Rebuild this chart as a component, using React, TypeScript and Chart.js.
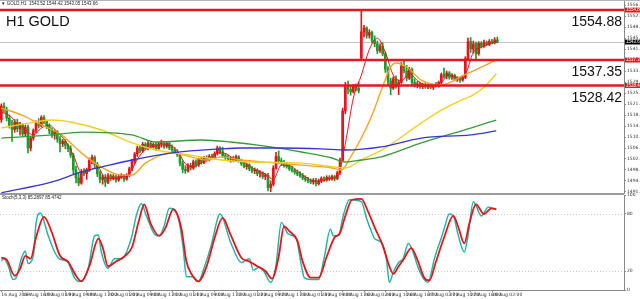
import React, { useEffect, useRef } from "react";
import { Chart, registerables } from "chart.js";
Chart.register(...registerables);

// ---------- DATA ----------
const title = "H1 GOLD";
const headerText = "▼ GOLD,H1  1543.52 1544.42 1543.05 1543.66";
const stochLabel = "Stoch(5,3,3) 85.2897 85.4742";

// [open, high, low, close] per H1 bar
const candles: number[][] = [
  [1516.5,1522.0,1515.5,1521.2],[1521.2,1522.3,1519.0,1520.0],[1520.0,1520.8,1516.0,1517.0],[1517.0,1518.0,1513.5,1514.5],
  [1514.5,1516.2,1508.8,1513.0],[1513.0,1516.5,1512.0,1515.5],[1515.5,1516.6,1512.2,1513.2],[1513.2,1515.5,1511.0,1514.6],
  [1514.6,1515.0,1510.5,1511.5],[1511.5,1514.5,1510.8,1513.8],[1513.8,1514.5,1504.8,1506.5],[1506.5,1510.5,1505.5,1510.0],
  [1510.0,1513.2,1509.2,1512.6],[1512.6,1516.0,1511.8,1515.2],[1515.2,1516.8,1513.5,1514.3],[1514.3,1517.8,1513.9,1517.2],
  [1517.2,1517.9,1515.0,1515.8],[1515.8,1516.3,1513.3,1514.0],[1514.0,1515.0,1511.5,1512.5],[1512.5,1513.6,1510.2,1511.0],
  [1511.0,1512.8,1509.6,1512.2],[1512.2,1512.6,1508.5,1509.6],[1509.6,1510.5,1505.1,1508.0],[1508.0,1509.5,1507.0,1508.8],
  [1508.8,1509.4,1506.2,1507.4],[1507.4,1508.0,1505.2,1506.3],[1506.3,1507.3,1503.2,1504.0],[1504.0,1504.6,1497.5,1498.8],
  [1498.8,1500.2,1494.3,1496.0],[1496.0,1497.6,1493.3,1494.2],[1494.2,1499.0,1493.8,1498.2],[1498.2,1499.3,1496.8,1497.5],
  [1497.5,1499.5,1495.5,1499.0],[1499.0,1503.0,1498.3,1502.2],[1502.2,1504.0,1501.0,1503.2],[1503.2,1503.8,1500.0,1500.7],
  [1500.7,1501.5,1496.5,1497.5],[1497.5,1498.5,1494.3,1495.5],[1495.5,1497.0,1493.8,1496.2],[1496.2,1497.2,1493.0,1494.5],
  [1494.5,1497.5,1494.0,1496.8],[1496.8,1497.4,1495.0,1496.0],[1496.0,1497.2,1495.3,1496.5],[1496.5,1497.0,1494.5,1495.3],
  [1495.3,1497.2,1494.8,1496.5],[1496.5,1497.5,1495.8,1496.9],[1496.9,1497.3,1494.8,1495.6],[1495.6,1497.5,1495.2,1497.0],
  [1497.0,1499.8,1496.4,1499.2],[1499.2,1502.5,1498.6,1501.8],[1501.8,1505.0,1501.1,1504.4],[1504.4,1507.2,1503.5,1506.5],
  [1506.5,1507.3,1504.8,1505.5],[1505.5,1508.5,1505.0,1507.8],[1507.8,1508.4,1505.8,1506.4],[1506.4,1509.1,1505.8,1508.2],
  [1508.2,1508.9,1506.2,1507.0],[1507.0,1508.3,1506.5,1507.8],[1507.8,1508.5,1505.6,1506.3],[1506.3,1508.6,1506.0,1508.0],
  [1508.0,1509.3,1506.8,1508.2],[1508.2,1508.8,1506.4,1507.1],[1507.1,1508.8,1506.5,1508.1],[1508.1,1508.5,1505.9,1506.6],
  [1506.6,1507.6,1505.2,1505.8],[1505.8,1506.7,1504.5,1505.0],[1505.0,1505.9,1503.5,1504.1],[1504.1,1504.6,1500.2,1501.2],
  [1501.2,1502.0,1497.8,1499.0],[1499.0,1500.3,1497.6,1498.5],[1498.5,1501.0,1498.0,1500.4],[1500.4,1501.2,1498.8,1499.5],
  [1499.5,1502.3,1499.0,1501.7],[1501.7,1502.4,1499.8,1500.6],[1500.6,1503.0,1500.0,1502.5],[1502.5,1503.3,1500.8,1501.5],
  [1501.5,1503.6,1501.0,1503.0],[1503.0,1503.8,1501.8,1502.4],[1502.4,1504.2,1502.0,1503.6],[1503.6,1504.4,1502.5,1503.0],
  [1503.0,1505.2,1502.6,1504.6],[1504.6,1507.2,1504.0,1506.5],[1506.5,1507.0,1504.5,1505.2],[1505.2,1506.8,1503.3,1503.8],
  [1503.8,1504.6,1502.5,1503.2],[1503.2,1504.0,1502.0,1502.6],[1502.6,1503.5,1501.5,1503.0],[1503.0,1503.6,1501.6,1502.1],
  [1502.1,1504.0,1501.8,1503.4],[1503.4,1503.8,1501.5,1502.0],[1502.0,1502.6,1500.4,1501.0],[1501.0,1501.8,1499.5,1500.0],
  [1500.0,1501.2,1499.0,1500.6],[1500.6,1501.0,1498.5,1499.2],[1499.2,1500.0,1497.8,1498.5],[1498.5,1499.5,1497.5,1498.8],
  [1498.8,1499.2,1496.8,1497.5],[1497.5,1498.6,1496.3,1497.8],[1497.8,1498.2,1495.8,1496.5],[1496.5,1497.6,1495.4,1497.0],
  [1497.0,1497.6,1491.5,1492.6],[1492.6,1495.0,1491.2,1493.8],[1493.8,1500.3,1493.2,1499.5],[1499.5,1505.0,1499.0,1503.5],
  [1503.5,1505.5,1501.2,1502.0],[1502.0,1503.0,1500.3,1501.0],[1501.0,1502.2,1499.8,1500.5],[1500.5,1501.4,1499.4,1500.0],
  [1500.0,1500.8,1498.6,1499.2],[1499.2,1500.2,1498.0,1498.8],[1498.8,1499.3,1497.3,1498.0],[1498.0,1498.8,1496.8,1497.4],
  [1497.4,1498.2,1496.2,1496.8],[1496.8,1497.6,1495.4,1496.0],[1496.0,1496.8,1494.8,1495.5],[1495.5,1496.2,1494.3,1495.0],
  [1495.0,1495.7,1494.0,1494.6],[1494.6,1495.8,1493.8,1495.2],[1495.2,1495.9,1493.2,1494.0],[1494.0,1495.6,1493.5,1495.0],
  [1495.0,1496.4,1494.4,1495.8],[1495.8,1496.4,1494.8,1495.3],[1495.3,1496.8,1494.9,1496.2],[1496.2,1496.8,1495.0,1495.6],
  [1495.6,1497.0,1495.2,1496.5],[1496.5,1497.0,1495.0,1495.8],[1495.8,1498.4,1495.4,1497.8],[1497.8,1503.0,1497.2,1502.2],
  [1502.2,1520.5,1501.8,1519.5],[1519.5,1529.5,1518.5,1528.5],[1528.5,1530.0,1525.5,1527.0],[1527.0,1528.5,1525.0,1526.2],
  [1526.2,1528.8,1525.8,1528.2],[1528.2,1529.0,1526.5,1527.5],[1527.5,1529.6,1525.8,1526.5],[1538.0,1554.9,1537.5,1547.2],
  [1547.2,1549.5,1545.4,1548.6],[1548.6,1549.0,1545.0,1546.0],[1546.0,1548.0,1545.0,1547.0],[1547.0,1547.5,1543.3,1544.2],
  [1544.2,1545.8,1542.0,1543.0],[1543.0,1544.0,1539.6,1540.6],[1540.6,1543.0,1540.0,1542.2],[1542.2,1543.4,1538.8,1539.5],
  [1539.5,1540.2,1533.0,1534.2],[1534.2,1535.0,1528.5,1530.0],[1530.0,1531.0,1525.2,1527.5],[1527.5,1531.5,1527.0,1530.8],
  [1530.8,1531.8,1527.5,1528.4],[1528.4,1530.4,1525.2,1529.5],[1529.5,1536.5,1529.0,1535.2],[1535.2,1537.5,1532.8,1533.5],
  [1533.5,1535.5,1530.0,1531.0],[1531.0,1534.8,1530.5,1534.0],[1534.0,1534.5,1528.5,1529.4],[1529.4,1530.8,1527.8,1528.6],
  [1528.6,1529.8,1527.6,1529.0],[1529.0,1529.6,1527.4,1528.0],[1528.0,1529.2,1527.3,1528.7],[1528.7,1529.3,1527.4,1527.9],
  [1527.9,1529.0,1527.3,1528.5],[1528.5,1529.0,1527.2,1527.8],[1527.8,1528.9,1527.0,1528.4],[1528.4,1529.5,1527.8,1528.2],
  [1528.2,1530.0,1527.8,1529.5],[1529.5,1532.8,1529.0,1532.2],[1532.2,1534.5,1531.0,1531.6],[1531.6,1533.5,1530.8,1532.8],
  [1532.8,1533.3,1530.6,1531.3],[1531.3,1532.6,1530.5,1532.0],[1532.0,1532.4,1530.0,1530.6],[1530.6,1531.5,1529.8,1531.0],
  [1531.0,1531.4,1529.5,1530.3],[1530.3,1531.8,1529.9,1531.2],[1531.2,1538.5,1530.8,1537.8],[1537.8,1545.0,1537.2,1543.8],
  [1543.8,1545.2,1540.0,1541.2],[1541.2,1544.0,1539.8,1543.0],[1543.0,1543.6,1537.5,1539.6],[1539.6,1543.8,1539.0,1543.2],
  [1543.2,1543.8,1541.5,1542.1],[1542.1,1544.3,1541.8,1543.5],[1543.5,1544.0,1542.3,1542.8],[1542.8,1544.5,1542.4,1543.9],
  [1543.9,1544.6,1543.0,1543.4],[1543.4,1545.2,1543.0,1544.4],[1544.4,1545.4,1543.4,1543.7]
];

// moving averages: [bar index, price]
const maFast: number[][] = [
  [0,1519],[3,1518],[6,1515],[9,1513],[12,1511],[15,1513.5],[18,1514.5],[21,1512],[24,1509],[27,1504],[30,1498],
  [33,1498.5],[36,1500],[39,1496],[42,1495.8],[45,1496.2],[48,1497.5],[51,1502.5],[54,1506],[57,1507],[60,1507.6],
  [63,1507.5],[66,1505.5],[69,1501],[72,1500],[75,1501.3],[78,1502.8],[81,1504.8],[84,1504.6],[87,1502.8],[90,1502.2],
  [93,1500.2],[96,1498.6],[99,1497.4],[102,1495.5],[105,1500.5],[108,1500.4],[111,1498.4],[114,1496.4],[117,1495],
  [120,1494.9],[123,1495.8],[126,1496.4],[129,1508],[132,1524],[135,1532],[138,1541],[141,1545],[144,1540],[147,1532],
  [150,1530],[153,1532.6],[156,1530.2],[159,1528.4],[162,1528.2],[165,1529.6],[168,1532],[171,1531.2],[174,1532.4],
  [177,1540],[180,1541.8],[183,1543],[186,1543.6]
];
const maOrange: number[][] = [
  [0,1520.5],[7.5,1518.1],[15,1514.6],[22.5,1511.1],[30,1504.8],[37.5,1499.8],[45,1497],[49,1497],[54,1501.2],
  [64,1504.8],[71,1503.4],[77,1502.3],[82.5,1503.4],[90,1502.3],[101,1501.4],[112.5,1500.5],[124,1499.5],[127.5,1498.8],
  [131,1503.4],[135,1510],[139,1518],[142.5,1526.8],[146,1534.9],[148,1536.3],[152,1534.9],[157.5,1530.3],[165,1528.6],
  [173.6,1532.1],[185.6,1537.35]
];
const maYellow: number[][] = [
  [0,1513.5],[11,1515.3],[19,1516.3],[26,1515.6],[37.5,1512.8],[49,1508.3],[58,1505.8],[71,1504],[82.5,1502.3],
  [94,1501.6],[112.5,1501.2],[125.6,1499.8],[129,1499.5],[135,1502.3],[144,1506.5],[157.5,1515.3],[165,1519.8],
  [172.5,1523.3],[176,1524.6],[181,1527.8],[185.6,1532.5]
];
const maGreen: number[][] = [
  [0,1510],[19,1511.1],[30,1512.1],[49,1511.1],[58,1508.6],[75,1509.3],[86,1508.6],[101,1506.9],[112.5,1505.1],
  [124,1503],[129,1501.6],[135,1502.3],[142.5,1503.4],[157.5,1508.3],[176,1513.5],[185.6,1516.3]
];
const maBlue: number[][] = [
  [0,1490.8],[19,1494.6],[30,1498.1],[37.5,1499.8],[49,1502.3],[64,1504.8],[82.5,1506.2],[90,1506.5],[105,1506.5],
  [120,1506.2],[129,1505.8],[142.5,1506.9],[157.5,1510],[176,1511.1],[185.6,1512.5]
];

// stochastic: [bar index, value]
const stochMain: number[][] = [
  [0,31],[1,33],[2.5,26],[4.4,11],[5.6,13],[7.5,33],[9,41],[10,28],[12,36],[13,70],[14.6,81],[17.6,57],[20,40],
  [21.7,33],[25,29],[27.4,13],[29,9],[30.7,11],[32.6,23],[35,57],[36.4,58],[37.5,40],[40,23],[42.4,33],[45,33],
  [48.7,54],[50.6,78],[52.5,91],[54.4,78],[57.4,59],[59.2,57],[61,67],[63,86],[66.4,75],[68.2,44],[69.4,14],[72,14],
  [73.9,9],[76,23],[78.7,47],[81.4,78],[82,80],[86,50],[90,29],[93,33],[94.5,21],[96.7,24],[98.6,19],[101,8],[103,26],
  [105,71],[107.6,59],[110.6,54],[112.5,26],[113.6,13],[116,11],[119,11],[121,33],[123.4,64],[124.5,57],[126.4,57],
  [128.2,78],[130.5,95],[135,93],[137,75],[139,60],[140,54],[142.5,50],[144.4,33],[145.5,8],[147,19],[149,29],
  [150.7,33],[152.6,49],[153.7,45],[156.4,23],[158.6,11],[160,8],[162.4,33],[165,55],[166,64],[168,80],[169.5,78],
  [171.4,57],[173.6,40],[175,57],[177,93],[180,78],[182.6,87],[185.6,85]
];
const stochSignal: number[][] = [
  [0,34],[2,32],[5,15],[7,22],[9,36],[11,33],[13,55],[16,77],[19,60],[22,36],[25,30],[28,15],[30,9],[33,25],
  [36.4,54],[38,45],[40,25],[43,30],[46,35],[49,45],[51.5,72],[53.6,90],[56,70],[59.2,57],[61.5,65],[64.5,85],
  [67.5,65],[69.4,30],[71.5,16],[73.9,9],[77,25],[80,55],[83,76],[86,58],[90,34],[93,30],[96,25],[99,20],[101.5,12],
  [104,35],[106,67],[108,62],[111,52],[113,30],[116,13],[119,13],[122,35],[124.9,55],[127,60],[129,78],[131.5,95],
  [135,96],[137.6,82],[140,66],[143,47],[145.5,25],[147,17],[149,25],[151,33],[153.7,44],[156,32],[158.6,13],
  [160.5,10],[163,30],[166,55],[169.5,78],[171.5,65],[173.6,49],[175.5,70],[178,90],[181,80],[183.8,86],[185.6,85]
];

const levels = [1554.88, 1537.35, 1528.42];
const currentPrice = 1543.66;
const priceTicks = [1491.10,1494.95,1498.80,1502.65,1506.50,1510.35,1514.20,1518.05,1521.90,1525.75,1529.60,
  1533.45,1537.30,1541.15,1545.00,1548.85,1552.70,1556.55];
const stochTicks = [0, 20, 80, 100];
const stochLevels = [20, 80];
const timeTickIdx = [0,8,16,24,32,40,48,56,64,72,80,88,96,104,112,120,128,136,144,152,160,168,176,184];
const timeLabels = ["16 Aug 2019","16 Aug 16:00","19 Aug 01:00","19 Aug 09:00","19 Aug 17:00","20 Aug 01:00",
  "20 Aug 09:00","20 Aug 17:00","21 Aug 01:00","21 Aug 09:00","21 Aug 17:00","22 Aug 01:00","22 Aug 09:00",
  "22 Aug 17:00","23 Aug 01:00","23 Aug 09:00","23 Aug 17:00","26 Aug 02:00","26 Aug 10:00","26 Aug 18:00",
  "27 Aug 02:00","27 Aug 10:00","27 Aug 18:00","28 Aug 02:00"];

// ---------- STYLE ----------
const BULL = "#e8141c";
const BEAR = "#1f9a2a";
const X_MIN = -0.5;
const X_MAX = 233.5;
const SMALL_FONT = { size: 4.5, family: '"DejaVu Sans", sans-serif' };
const SANS = '"Liberation Sans", Arial, sans-serif';

const pts = (a: number[][]) => a.map(([x, y]) => ({ x, y }));
const lineDs = (data: number[][], color: string, width: number) => ({
  type: "line" as const,
  data: pts(data),
  borderColor: color,
  borderWidth: width,
  pointRadius: 0,
  cubicInterpolationMode: "monotone" as const,
  order: 1,
});

export default function App() {
  const mainRef = useRef<HTMLCanvasElement>(null);
  const stochRef = useRef<HTMLCanvasElement>(null);

  useEffect(() => {
    document.body.style.margin = "0";
    const colors = candles.map(([o, , , c]) => (c >= o ? BULL : BEAR));
    const fixY = (s: any) => {
      s.width = 16;
      s.paddingTop = 0;
      s.paddingBottom = 0;
    };

    const mainOverlay = {
      id: "mainOverlay",
      beforeDatasetsDraw(chart: any) {
        const { ctx, chartArea, scales } = chart;
        const yy = Math.round(scales.y.getPixelForValue(currentPrice)) + 0.5;
        ctx.save();
        ctx.strokeStyle = "#c4c4c4";
        ctx.lineWidth = 1;
        ctx.beginPath();
        ctx.moveTo(chartArea.left, yy);
        ctx.lineTo(chartArea.right, yy);
        ctx.stroke();
        ctx.restore();
      },
      afterDatasetsDraw(chart: any) {
        const { ctx, chartArea, scales } = chart;
        ctx.save();
        levels.forEach((v) => {
          const yy = scales.y.getPixelForValue(v);
          ctx.strokeStyle = "#e3171f";
          ctx.lineWidth = 2.5;
          ctx.beginPath();
          ctx.moveTo(chartArea.left, yy);
          ctx.lineTo(chartArea.right, yy);
          ctx.stroke();
          ctx.fillStyle = "#111";
          ctx.font = `14px ${SANS}`;
          ctx.textAlign = "right";
          ctx.textBaseline = "alphabetic";
          ctx.fillText(v.toFixed(2), chartArea.right - 2, yy + 16.5);
        });
        ctx.fillStyle = "#111";
        ctx.font = `14.5px ${SANS}`;
        ctx.textAlign = "left";
        ctx.fillText(title, 6, 26);
        ctx.font = `4.5px ${SANS}`;
        ctx.fillStyle = "#222";
        ctx.fillText(headerText, 1, 5);
        ctx.restore();
      },
      afterDraw(chart: any) {
        const { ctx, chartArea, scales } = chart;
        ctx.save();
        ctx.fillStyle = "#b4b4b4";
        ctx.fillRect(0, 0, chart.width, 1);
        const box = (v: number, bg: string) => {
          const yy = scales.y.getPixelForValue(v);
          ctx.fillStyle = bg;
          ctx.fillRect(chartArea.right + 1, yy - 2.5, 15, 5);
          ctx.fillStyle = "#fff";
          ctx.font = `4.5px ${SANS}`;
          ctx.textAlign = "left";
          ctx.textBaseline = "middle";
          ctx.fillText(v.toFixed(2), chartArea.right + 2, yy);
        };
        levels.forEach((v) => box(v, "#e3171f"));
        box(currentPrice, "#000");
        ctx.restore();
      },
    };

    const main = new Chart(mainRef.current!, {
      type: "bar",
      data: {
        datasets: [
          lineDs(maBlue, "#3535d6", 1.3),
          lineDs(maGreen, "#3a9a3a", 1.3),
          lineDs(maYellow, "#f2d020", 1.4),
          lineDs(maOrange, "#f5a522", 1.4),
          lineDs(maFast, "#e8141c", 1),
          {
            type: "bar",
            data: candles.map(([o, , , c], i) => ({ x: i, y: [o, c] })),
            backgroundColor: colors,
            barThickness: 2,
            minBarLength: 1,
            grouped: false,
            order: 2,
          } as any,
          {
            type: "bar",
            data: candles.map(([, h, l], i) => ({ x: i, y: [l, h] })),
            backgroundColor: colors,
            barThickness: 1,
            grouped: false,
            order: 3,
          } as any,
        ],
      },
      options: {
        responsive: false,
        devicePixelRatio: 1,
        animation: false,
        events: [],
        layout: { padding: { top: 1, bottom: 1, left: 0, right: 0 } },
        plugins: { legend: { display: false }, tooltip: { enabled: false } },
        scales: {
          x: { type: "linear", min: X_MIN, max: X_MAX, offset: false, display: false },
          y: {
            type: "linear",
            position: "right",
            min: 1490.73,
            max: 1558.03,
            afterBuildTicks: (s: any) => {
              s.ticks = priceTicks.map((v) => ({ value: v }));
            },
            afterFit: fixY,
            ticks: { font: SMALL_FONT, color: "#333", padding: 1, callback: (v: any) => Number(v).toFixed(2) },
            grid: { drawOnChartArea: false, tickLength: 2, color: "#888" },
            border: { display: true, color: "#888", width: 1 },
          },
        },
      },
      plugins: [mainOverlay],
    } as any);

    const stochOverlay = {
      id: "stochOverlay",
      beforeDatasetsDraw(chart: any) {
        const { ctx, chartArea, scales } = chart;
        ctx.save();
        ctx.strokeStyle = "#c8c8c8";
        ctx.lineWidth = 1;
        ctx.setLineDash([1, 2]);
        stochLevels.forEach((v) => {
          const yy = Math.round(scales.y.getPixelForValue(v)) + 0.5;
          ctx.beginPath();
          ctx.moveTo(chartArea.left, yy);
          ctx.lineTo(chartArea.right, yy);
          ctx.stroke();
        });
        ctx.restore();
      },
      afterDraw(chart: any) {
        const { ctx, chartArea } = chart;
        ctx.save();
        ctx.fillStyle = "#9a9a9a";
        ctx.fillRect(0, 0, chartArea.right, 2);
        ctx.fillStyle = "#222";
        ctx.font = `4.5px ${SANS}`;
        ctx.textAlign = "left";
        ctx.textBaseline = "alphabetic";
        ctx.fillText(stochLabel, 2, 6);
        ctx.restore();
      },
    };

    const stoch = new Chart(stochRef.current!, {
      type: "line",
      data: {
        datasets: [
          {
            data: pts(stochSignal),
            borderColor: "#e8141c",
            borderWidth: 1.8,
            pointRadius: 0,
            cubicInterpolationMode: "monotone",
          },
          {
            data: pts(stochMain),
            borderColor: "#25b5a5",
            borderWidth: 1.5,
            pointRadius: 0,
            cubicInterpolationMode: "monotone",
          },
        ],
      },
      options: {
        responsive: false,
        devicePixelRatio: 1,
        animation: false,
        events: [],
        layout: { padding: { top: 2, bottom: 0, left: 0, right: 0 } },
        plugins: { legend: { display: false }, tooltip: { enabled: false } },
        scales: {
          x: {
            type: "linear",
            min: X_MIN,
            max: X_MAX,
            offset: false,
            afterBuildTicks: (s: any) => {
              s.ticks = timeTickIdx.map((v) => ({ value: v }));
            },
            afterFit: (s: any) => {
              s.height = 9;
              s.paddingLeft = 0;
              s.paddingRight = 0;
            },
            ticks: {
              font: SMALL_FONT,
              color: "#333",
              padding: 0,
              align: "start",
              autoSkip: false,
              maxRotation: 0,
              callback: (_v: any, i: number) => timeLabels[i],
            },
            grid: { drawOnChartArea: false, tickLength: 2, color: "#888" },
            border: { display: true, color: "#888", width: 1 },
          },
          y: {
            type: "linear",
            position: "right",
            min: 0,
            max: 100,
            afterBuildTicks: (s: any) => {
              s.ticks = stochTicks.map((v) => ({ value: v }));
            },
            afterFit: fixY,
            ticks: { font: SMALL_FONT, color: "#333", padding: 1 },
            grid: { drawOnChartArea: false, tickLength: 2, color: "#888" },
            border: { display: true, color: "#888", width: 1 },
          },
        },
      },
      plugins: [stochOverlay],
    } as any);

    return () => {
      main.destroy();
      stoch.destroy();
    };
  }, []);

  return (
    <div style={{ position: "relative", width: 640, height: 299, background: "#fff", overflow: "hidden" }}>
      <canvas ref={mainRef} width={640} height={194} style={{ position: "absolute", left: 0, top: 0 }} />
      <canvas ref={stochRef} width={640} height={106} style={{ position: "absolute", left: 0, top: 193 }} />
    </div>
  );
}
